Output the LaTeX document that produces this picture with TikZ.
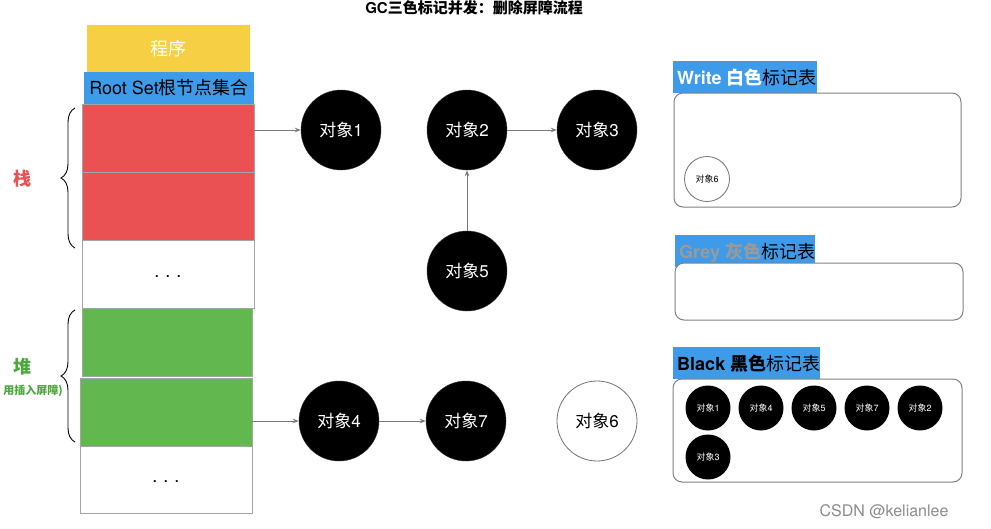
\documentclass[tikz,border=0pt]{standalone}
\usepackage{fontspec}
\setmainfont{Noto Sans CJK SC}
\newfontfamily\hv{TeX Gyre Heros}
\usetikzlibrary{arrows.meta,decorations.pathreplacing}
\definecolor{cyel}{HTML}{F6CF45}
\definecolor{cblue}{HTML}{3E9BEA}
\definecolor{cred}{HTML}{E95152}
\definecolor{cgreen}{HTML}{63B74F}
\definecolor{cgreentxt}{HTML}{4CA83A}
\definecolor{cborder}{HTML}{A5A5A5}
\definecolor{carrow}{HTML}{7A7A7A}
\definecolor{cgreytxt}{HTML}{9A9A9A}
\newcommand{\dx}[1]{对象{\hv #1}}
\begin{document}
\begin{tikzpicture}[x=1pt,y=-1pt,
  cell/.style={draw=cborder,line width=1pt,inner sep=0pt,outer sep=0pt,anchor=north west},
  obj/.style={circle,fill=black,draw=black!80,minimum size=80pt,inner sep=0pt,text=white,font=\fontsize{17}{17}\selectfont},
  whiteobj/.style={circle,fill=white,draw=black!55,line width=0.8pt,minimum size=80pt,inner sep=0pt,text=black,font=\fontsize{17}{17}\selectfont},
  sobj/.style={circle,fill=black,minimum size=45pt,inner sep=0pt,text=white,font=\fontsize{9}{9}\selectfont},
  swobj/.style={circle,fill=white,draw=black!55,line width=0.8pt,minimum size=45pt,inner sep=0pt,text=black,font=\fontsize{9}{9}\selectfont},
  arr/.style={draw=carrow,line width=0.8pt,-{Stealth[length=6pt,width=4.5pt]}},
  panel/.style={draw=black!50,line width=1pt,rounded corners=9pt,fill=white},
  tag/.style={fill=cblue,inner sep=0pt,anchor=north west,font=\fontsize{18}{18}\selectfont},
  brc/.style={decorate,decoration={brace,amplitude=14pt},line width=0.9pt},
  dots/.style={font=\fontsize{18}{18}\selectfont\hv}
]
\useasboundingbox (0,0) rectangle (991,528);
\fill[white] (0,0) rectangle (991,528);

% title
\node (title) at (474,8) {\fontsize{15}{15}\selectfont\bfseries {\hv GC}三色标记并发：删除屏障流程};

% left column
\node[cell,draw=none,fill=cyel,minimum width=163pt,minimum height=47pt,text=white,font=\fontsize{18}{18}\selectfont] (prog) at (87,25) {程序};
\node[cell,draw=none,fill=cblue,minimum width=170pt,minimum height=32pt,font=\fontsize{18}{18}\selectfont] (root) at (84,72) {{\hv Root Set}根节点集合};
\node[cell,fill=cred,minimum width=172pt,minimum height=68pt] (red1) at (82,104) {};
\node[cell,fill=cred,minimum width=172pt,minimum height=68pt] (red2) at (82,172) {};
\node[cell,fill=white,minimum width=172pt,minimum height=68pt,dots] (dots1) at (82,240) {\raisebox{-6pt}{.\hspace{6pt}.\hspace{6pt}.}};
\node[cell,fill=cgreen,minimum width=170pt,minimum height=68pt] (grn1) at (82,308) {};
\node[cell,fill=cgreen,minimum width=172pt,minimum height=68pt] (grn2) at (80,378) {};
\node[cell,fill=white,minimum width=172pt,minimum height=67pt,dots] (dots2) at (80,446) {\raisebox{-6pt}{.\hspace{6pt}.\hspace{6pt}.}};

% braces and labels
\coordinate (sb1) at (75,248);
\coordinate (sb2) at (75,108);
\coordinate (hb1) at (75,442);
\coordinate (hb2) at (75,310);
\draw[brc] (sb1) -- (sb2);
\draw[brc] (hb1) -- (hb2);
\node[text=cred,font=\fontsize{18}{18}\selectfont\bfseries] (zhan) at (22,179) {栈};
\node[text=cgreentxt,font=\fontsize{18}{18}\selectfont\bfseries] (dui) at (22,367) {堆};
\node[text=cgreentxt,font=\fontsize{11}{11}\selectfont\bfseries,anchor=east,inner sep=0pt] (dui2) at (63,391) {用插入屏障)};

% objects
\node[obj] (o1) at (341,130) {\dx{1}};
\node[obj] (o2) at (467,130) {\dx{2}};
\node[obj] (o3) at (597,130) {\dx{3}};
\node[obj] (o5) at (467,271) {\dx{5}};
\node[obj] (o4) at (339,421) {\dx{4}};
\node[obj] (o7) at (466,421) {\dx{7}};
\node[whiteobj] (o6) at (597,421) {\dx{6}};

\draw[arr] (red1.east |- o1) -- (o1);
\draw[arr] (o2) -- (o3);
\draw[arr] (o5) -- (o2);
\draw[arr] (grn2.east |- o4) -- (o4);
\draw[arr] (o4) -- (o7);

% right panels
\node[tag] (wtag) at (673,61) {\rule{0pt}{32pt}\hspace{4pt}\raisebox{9pt}{\textcolor{white}{\bfseries\hv Write \normalfont\bfseries 白色}标记表}\hspace{3pt}};
\draw[panel] (674,93) rectangle (961,207);
\node[swobj] (w6) at (707,179) {\dx{6}};

\node[tag] (gtag) at (675,235) {\rule{0pt}{32pt}\hspace{4pt}\raisebox{9pt}{\textcolor{cgreytxt}{\bfseries\hv Grey \normalfont\bfseries 灰色}标记表}\hspace{3pt}};
\draw[panel] (675,263) rectangle (963,320);

\node[tag] (btag) at (673,347) {\rule{0pt}{32pt}\hspace{4pt}\raisebox{9pt}{{\bfseries\hv Black \normalfont\bfseries 黑色}标记表}\hspace{3pt}};
\draw[panel] (673,379) rectangle (962,482);
\node[sobj] (b1) at (708,408) {\dx{1}};
\node[sobj] (b4) at (761,408) {\dx{4}};
\node[sobj] (b5) at (814,408) {\dx{5}};
\node[sobj] (b7) at (867,408) {\dx{7}};
\node[sobj] (b2) at (920,408) {\dx{2}};
\node[sobj] (b3) at (708,457) {\dx{3}};

\node[text=black!45,font=\fontsize{16}{16}\selectfont\hv] (csdn) at (884,512) {CSDN @kelianlee};
\end{tikzpicture}
\end{document}
